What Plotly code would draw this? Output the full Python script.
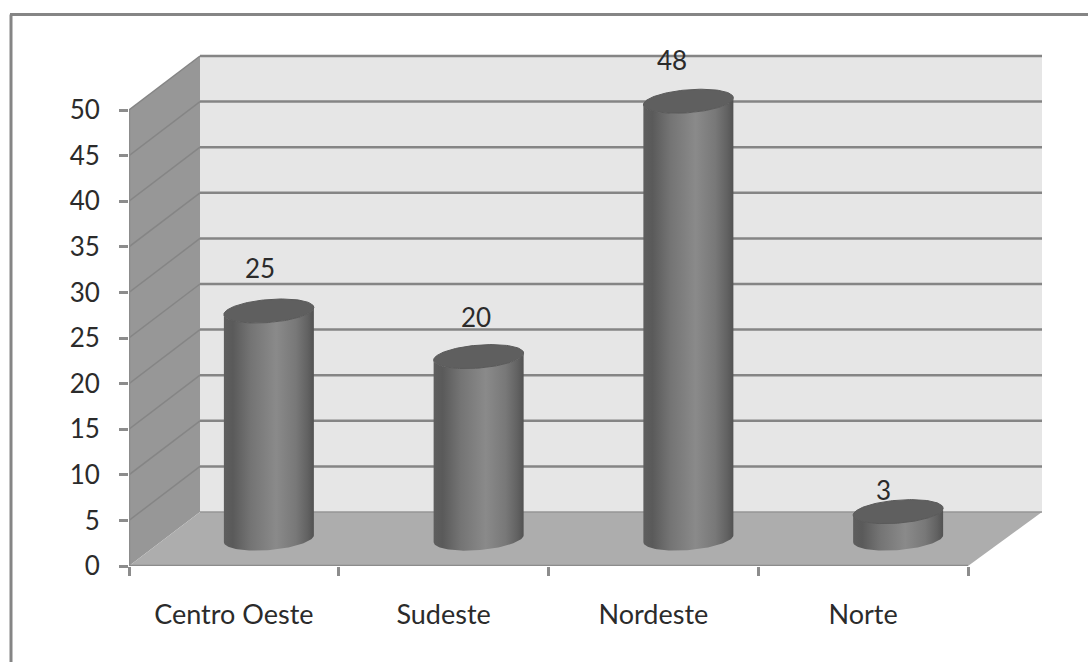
import numpy as np
import plotly.graph_objects as go

categories = ["Centro Oeste", "Sudeste", "Nordeste", "Norte"]
values = [25, 20, 48, 3]
y_ticks = [0, 5, 10, 15, 20, 25, 30, 35, 40, 45, 50]

# pixel frame of the plot area
W, H = 1088, 662
L, R, T, B = 129, 46, 50, 96
px_x = (968 - 129) / 4      # px per category
px_y = (566 - 110) / 50     # px per value unit
xmax = (W - L - R) / px_x
ymax = (H - T - B) / px_y
DX = 71 / px_x              # depth offset
DY = 54 / px_y

shapes = []

def poly(pts, fill, layer="below"):
    d = "M" + "L".join(f"{x},{y}" for x, y in pts) + "Z"
    return dict(type="path", path=d, xref="x", yref="y", fillcolor=fill,
                line=dict(width=0), layer=layer)

def seg(x0, y0, x1, y1, color, width):
    return dict(type="line", x0=x0, y0=y0, x1=x1, y1=y1, xref="x", yref="y",
                line=dict(color=color, width=width), layer="below")

# walls and floor
shapes.append(poly([(DX, DY), (xmax, DY), (xmax, 50 + DY), (DX, 50 + DY)], "#e6e6e6"))
shapes.append(poly([(0, 0), (DX, DY), (DX, 50 + DY), (0, 50)], "#979797"))
shapes.append(poly([(0, 0), (4, 0), (xmax, DY), (DX, DY)], "#adadad"))
# gridlines
for t in y_ticks:
    if t > 0:
        shapes.append(seg(0, t, DX, t + DY, "#858585", 1.5))
    shapes.append(seg(DX, t + DY, xmax, t + DY, "#858585" if t else "#969696", 2.5 if t else 1.5))
# outer frame: top and left only
fx = lambda p: (p - L) / (W - L - R)
fy = lambda p: 1 - (p - T) / (H - T - B)
frame = "#858585"
shapes.append(dict(type="line", xref="paper", yref="paper", x0=fx(10), x1=fx(W), y0=fy(14.5), y1=fy(14.5),
                   line=dict(color=frame, width=3), layer="below"))
shapes.append(dict(type="line", xref="paper", yref="paper", x0=fx(11), x1=fx(11), y0=fy(14.5), y1=fy(H),
                   line=dict(color=frame, width=3), layer="below"))

# cylinders
A = 45 / px_x        # half width
Bv = 11.5 / px_y     # half height of the ellipse
TILT = 3.5 / px_y    # rise towards the right side
cx0 = 0.5 + 35 / px_x
cy0 = 3.0

def ellipse_pts(cx, cy, t):
    return cx + A * np.cos(t), cy - Bv * np.sin(t) + TILT * np.cos(t)

traces = []
# axis lines, not clipped at the plot edge
traces.append(go.Scatter(x=[0, 0, 4], y=[50, 0, 0], mode="lines", cliponaxis=False,
                         line=dict(color="#8c8c8c", width=2.5), hoverinfo="skip", showlegend=False))
scale = [[0, "#5e5e5e"], [0.1, "#5a5a5a"], [0.3, "#747474"], [0.58, "#8a8a8a"],
         [0.8, "#787878"], [0.93, "#626262"], [1, "#525252"]]
for i, v in enumerate(values):
    cx = cx0 + i
    top = v + DY / 2
    t_b = np.linspace(np.pi, 0, 60)
    xb, yb = ellipse_pts(cx, cy0, t_b)
    t_t = np.linspace(0, np.pi, 60)
    xt, yt = ellipse_pts(cx, top, t_t)
    traces.append(go.Scatter(
        x=np.r_[xb, xt].tolist(), y=np.r_[yb, yt].tolist(), mode="lines", fill="toself",
        line=dict(width=0, color="rgba(0,0,0,0)"),
        fillgradient=dict(type="horizontal", colorscale=scale),
        hoverinfo="skip", showlegend=False))
    t = np.linspace(0, 2 * np.pi, 120)
    xe, ye = ellipse_pts(cx, top, t)
    traces.append(go.Scatter(
        x=xe.tolist(), y=ye.tolist(), mode="lines", fill="toself", fillcolor="#5f5f5f",
        line=dict(width=1, color="#5a5a5a"), hoverinfo="skip", showlegend=False))

# value labels
label_dx = [-9, -3, -16, -15]
label_dy = [-43, -40, -41, -22]
TEXT = "#2b2b2b"
annotations = [dict(x=cx0 + i, y=v + DY / 2, xref="x", yref="y", text=str(v), showarrow=False,
                    xshift=label_dx[i], yshift=-label_dy[i],
                    font=dict(family="Lato", size=26, color=TEXT))
               for i, v in enumerate(values)]

fig = go.Figure(traces)
fig.update_layout(
    width=W, height=H, autosize=False,
    margin=dict(l=L, r=R, t=T, b=B, pad=0),
    paper_bgcolor="white", plot_bgcolor="white",
    shapes=shapes, annotations=annotations, showlegend=False,
    font=dict(family="Lato", size=26, color=TEXT),
)
fig.update_xaxes(range=[0, xmax], showgrid=False, zeroline=False, showline=False,
                 tickmode="array", tickvals=[i + 0.5 for i in range(4)], ticktext=categories,
                 tickfont=dict(size=27), ticks="", ticklabelstandoff=30,
                 minor=dict(tickmode="array", tickvals=[0, 1, 2, 3, 4], ticks="outside",
                            ticklen=9, tickwidth=2.5, tickcolor="#8c8c8c"))
fig.update_yaxes(range=[0, ymax], showgrid=False, zeroline=False, showline=False,
                 tickmode="array", tickvals=y_ticks, ticks="outside", ticklen=9, tickwidth=2.5,
                 tickcolor="#8c8c8c", ticklabelstandoff=14)
fig.write_html("out.html", config=dict(displayModeBar=False),
               post_script="document.body.style.margin='0';document.body.style.overflow='hidden';")
